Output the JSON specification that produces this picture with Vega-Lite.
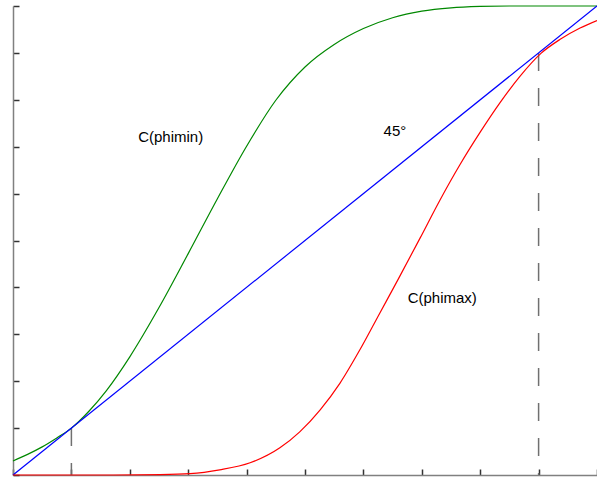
{
  "$schema": "https://vega.github.io/schema/vega-lite/v6.json",
  "width": 584,
  "height": 469,
  "autosize": {"type": "none"},
  "padding": {"left": 13, "top": 6, "right": 0, "bottom": 5},
  "config": {"view": {"stroke": null}, "font": "Liberation Sans"},
  "datasets": {
    "curves": [
      {"series": "phimin", "x": 0.0, "y": 0.030},
      {"series": "phimin", "x": 0.025, "y": 0.044},
      {"series": "phimin", "x": 0.05, "y": 0.060},
      {"series": "phimin", "x": 0.075, "y": 0.079},
      {"series": "phimin", "x": 0.1, "y": 0.100},
      {"series": "phimin", "x": 0.13, "y": 0.136},
      {"series": "phimin", "x": 0.16, "y": 0.180},
      {"series": "phimin", "x": 0.2, "y": 0.252},
      {"series": "phimin", "x": 0.25, "y": 0.357},
      {"series": "phimin", "x": 0.3, "y": 0.472},
      {"series": "phimin", "x": 0.35, "y": 0.589},
      {"series": "phimin", "x": 0.4, "y": 0.701},
      {"series": "phimin", "x": 0.45, "y": 0.799},
      {"series": "phimin", "x": 0.5, "y": 0.870},
      {"series": "phimin", "x": 0.55, "y": 0.918},
      {"series": "phimin", "x": 0.6, "y": 0.952},
      {"series": "phimin", "x": 0.65, "y": 0.975},
      {"series": "phimin", "x": 0.7, "y": 0.989},
      {"series": "phimin", "x": 0.75, "y": 0.996},
      {"series": "phimin", "x": 0.8, "y": 0.999},
      {"series": "phimin", "x": 0.85, "y": 1.0},
      {"series": "phimin", "x": 1.0, "y": 1.0},
      {"series": "diag", "x": 0.0, "y": 0.0},
      {"series": "diag", "x": 1.0, "y": 1.0},
      {"series": "phimax", "x": 0.0, "y": 0.0},
      {"series": "phimax", "x": 0.149, "y": 0.0},
      {"series": "phimax", "x": 0.252, "y": 0.001},
      {"series": "phimax", "x": 0.303, "y": 0.003},
      {"series": "phimax", "x": 0.354, "y": 0.011},
      {"series": "phimax", "x": 0.406, "y": 0.026},
      {"series": "phimax", "x": 0.457, "y": 0.058},
      {"series": "phimax", "x": 0.491, "y": 0.092},
      {"series": "phimax", "x": 0.526, "y": 0.139},
      {"series": "phimax", "x": 0.560, "y": 0.196},
      {"series": "phimax", "x": 0.594, "y": 0.267},
      {"series": "phimax", "x": 0.628, "y": 0.345},
      {"series": "phimax", "x": 0.659, "y": 0.416},
      {"series": "phimax", "x": 0.697, "y": 0.505},
      {"series": "phimax", "x": 0.731, "y": 0.586},
      {"series": "phimax", "x": 0.765, "y": 0.661},
      {"series": "phimax", "x": 0.800, "y": 0.731},
      {"series": "phimax", "x": 0.834, "y": 0.794},
      {"series": "phimax", "x": 0.868, "y": 0.850},
      {"series": "phimax", "x": 0.904, "y": 0.899},
      {"series": "phimax", "x": 0.937, "y": 0.929},
      {"series": "phimax", "x": 0.971, "y": 0.953},
      {"series": "phimax", "x": 1.0, "y": 0.969}
    ],
    "marks": [
      {"x": 0.1, "y": 0.1},
      {"x": 0.9, "y": 0.9}
    ],
    "labels": [
      {"x": 0.270, "y": 0.721, "text": "C(phimin)"},
      {"x": 0.654, "y": 0.733, "text": "45°"},
      {"x": 0.735, "y": 0.377, "text": "C(phimax)"}
    ]
  },
  "layer": [
    {
      "data": {"name": "marks"},
      "mark": {"type": "rule", "color": "#707070", "strokeWidth": 1.5, "strokeDash": [18, 17]},
      "encoding": {
        "x": {"field": "x", "type": "quantitative", "scale": {"domain": [0, 1], "nice": false},
              "axis": {"values": [0, 0.1, 0.2, 0.3, 0.4, 0.5, 0.6, 0.7, 0.8, 0.9, 1.0], "labels": false, "title": null, "grid": false, "tickSize": -6, "domainColor": "#808080", "tickColor": "#333333", "domainWidth": 1.5, "tickWidth": 1.5}},
        "y": {"field": "y", "type": "quantitative", "scale": {"domain": [0, 1], "nice": false},
              "axis": {"values": [0, 0.1, 0.2, 0.3, 0.4, 0.5, 0.6, 0.7, 0.8, 0.9, 1.0], "labels": false, "title": null, "grid": false, "tickSize": -6, "domainColor": "#808080", "tickColor": "#333333", "domainWidth": 1.5, "tickWidth": 1.5}},
        "y2": {"datum": 0}
      }
    },
    {
      "data": {"name": "curves"},
      "mark": {"type": "line", "strokeWidth": 1.2, "interpolate": "monotone"},
      "encoding": {
        "x": {"field": "x", "type": "quantitative"},
        "y": {"field": "y", "type": "quantitative"},
        "detail": {"field": "series"},
        "color": {"field": "series", "type": "nominal", "legend": null,
                  "scale": {"domain": ["phimin", "diag", "phimax"], "range": ["#008800", "#0000ff", "#ff0000"]}}
      }
    },
    {
      "data": {"name": "labels"},
      "mark": {"type": "text", "fontSize": 15, "font": "Liberation Sans", "color": "#000000"},
      "encoding": {
        "x": {"field": "x", "type": "quantitative"},
        "y": {"field": "y", "type": "quantitative"},
        "text": {"field": "text"}
      }
    }
  ]
}
